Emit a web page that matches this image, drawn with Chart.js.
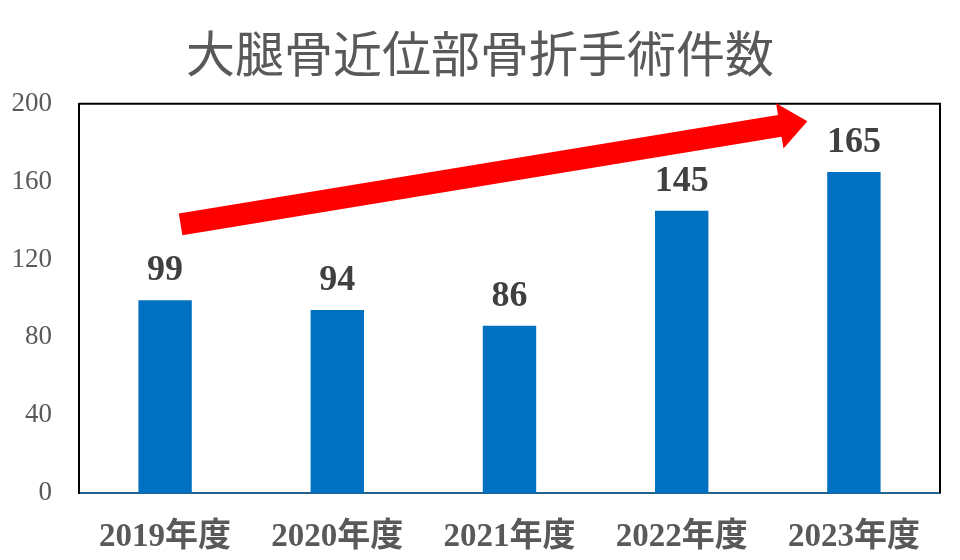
<!DOCTYPE html>
<html>
<head>
<meta charset="utf-8">
<script src="https://cdn.jsdelivr.net/npm/chart.js@4"></script>
<style>
  html, body { margin: 0; padding: 0; background: #fff; }
  #wrap { width: 960px; height: 560px; }
</style>
</head>
<body>
<div id="wrap"><canvas id="myChart" width="960" height="560"></canvas></div>
<script>
// chart data
var years = ['2019年度', '2020年度', '2021年度', '2022年度', '2023年度'];
var cases = [99, 94, 86, 145, 165];
var yTicks = [0, 40, 80, 120, 160, 200];
// red trend arrow, in data units: [category index, value]
var arrowFrom = [0.09, 138];
var arrowTo = [3.73, 191];

// value labels on top of bars
var barLabels = {
  id: 'barLabels',
  afterDatasetsDraw: function(chart) {
    var ctx = chart.ctx;
    var meta = chart.getDatasetMeta(0);
    ctx.save();
    ctx.font = 'bold 36px "Liberation Serif", serif';
    ctx.fillStyle = '#404040';
    ctx.textAlign = 'center';
    ctx.textBaseline = 'alphabetic';
    meta.data.forEach(function(bar, i) {
      ctx.fillText(String(cases[i]), bar.x, bar.y - 20);
    });
    ctx.restore();
  }
};

// top and right frame lines + arrow
var frameAndArrow = {
  id: 'frameAndArrow',
  afterDraw: function(chart) {
    var ctx = chart.ctx;
    var a = chart.chartArea;
    ctx.save();
    ctx.strokeStyle = '#000';
    ctx.lineWidth = 2;
    ctx.beginPath();
    ctx.moveTo(a.left, a.top);
    ctx.lineTo(a.right, a.top);
    ctx.lineTo(a.right, a.bottom);
    ctx.stroke();

    var xs = chart.scales.x, ys = chart.scales.y;
    var x0 = xs.getPixelForValue(arrowFrom[0]), y0 = ys.getPixelForValue(arrowFrom[1]);
    var x1 = xs.getPixelForValue(arrowTo[0]), y1 = ys.getPixelForValue(arrowTo[1]);
    var ang = Math.atan2(y1 - y0, x1 - x0);
    var len = Math.hypot(x1 - x0, y1 - y0);
    var shaft = 11, head = 23, headLen = 28;
    ctx.translate(x0, y0);
    ctx.rotate(ang);
    ctx.fillStyle = '#FF0000';
    ctx.beginPath();
    ctx.moveTo(0, -shaft);
    ctx.lineTo(len - headLen, -shaft);
    ctx.lineTo(len - headLen, -head);
    ctx.lineTo(len, 0);
    ctx.lineTo(len - headLen, head);
    ctx.lineTo(len - headLen, shaft);
    ctx.lineTo(0, shaft);
    ctx.closePath();
    ctx.fill();
    ctx.restore();
  }
};

var ctx = document.getElementById('myChart').getContext('2d');
var myChart = new Chart(ctx, {
  type: 'bar',
  data: {
    labels: years,
    datasets: [{
      data: cases,
      backgroundColor: '#0070C0',
      barPercentage: 0.31,
      categoryPercentage: 1
    }]
  },
  options: {
    responsive: false,
    animation: false,
    layout: { padding: { left: 0, right: 0, top: 0, bottom: 5 } },
    plugins: {
      legend: { display: false },
      tooltip: { enabled: false },
      title: {
        display: true,
        text: '大腿骨近位部骨折手術件数',
        color: '#595959',
        font: { family: '"Noto Sans CJK JP", sans-serif', size: 49, weight: 'normal' },
        padding: { top: 24, bottom: 21 }
      }
    },
    scales: {
      x: {
        afterFit: function(scale) { scale.height = 62; },
        grid: { display: false, drawTicks: false },
        border: { display: true, color: '#23628F', width: 2 },
        ticks: {
          color: '#595959',
          padding: 25,
          maxRotation: 0,
          font: { family: '"Liberation Serif", "Noto Sans CJK JP", serif', size: 33, weight: 'bold' }
        }
      },
      y: {
        min: 0,
        max: 200,
        afterFit: function(scale) { scale.width = 79; },
        afterBuildTicks: function(scale) {
          scale.ticks = yTicks.map(function(v) { return { value: v }; });
        },
        grid: { display: false, drawTicks: false },
        border: { display: true, color: '#000', width: 2 },
        ticks: {
          color: '#595959',
          padding: 27,
          font: { family: '"Liberation Serif", serif', size: 27 }
        }
      },
      // empty right axis, only keeps the right margin
      yRight: {
        position: 'right',
        min: 0,
        max: 200,
        afterFit: function(scale) { scale.width = 20; },
        grid: { display: false, drawTicks: false },
        border: { display: false },
        ticks: { display: false }
      }
    }
  },
  plugins: [barLabels, frameAndArrow]
});
</script>
</body>
</html>
